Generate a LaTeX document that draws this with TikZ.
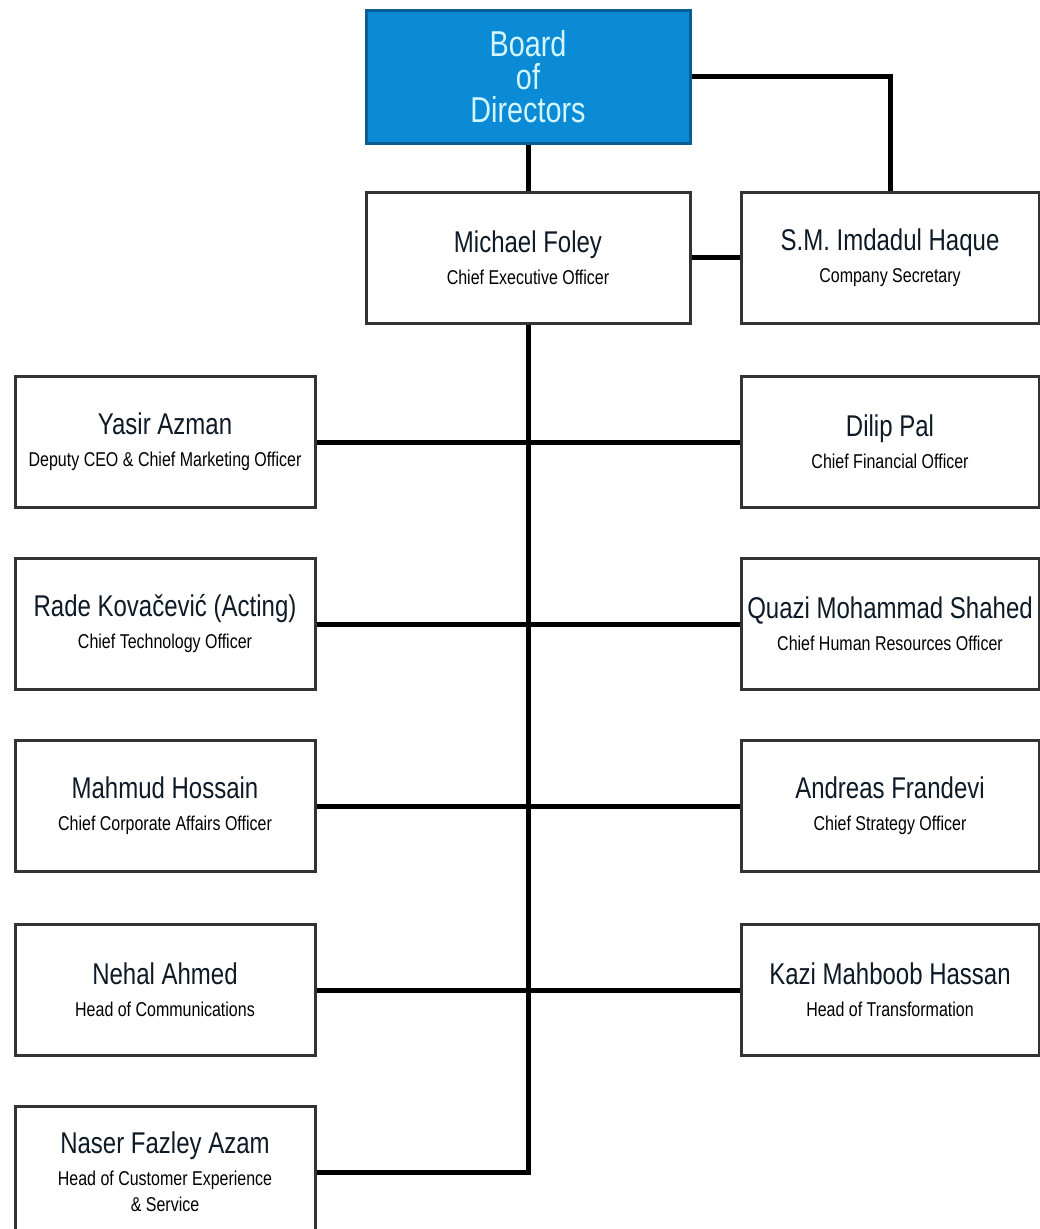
\documentclass[tikz,border=0pt]{standalone}
\usepackage{fontspec}
\setmainfont[FakeStretch=0.8]{Liberation Sans}
\definecolor{boardblue}{HTML}{0B8AD6}
\definecolor{boardedge}{HTML}{0A5E96}
\definecolor{boardtext}{HTML}{D2F6FF}
\definecolor{namecol}{HTML}{0E1A26}
\tikzset{
  box/.style={draw=black!80, line width=3pt, fill=white, rectangle, align=center,
    minimum height=131pt, inner sep=0pt, font=\fontsize{20}{26}\selectfont},
  smallbox/.style={box, minimum width=298pt},
  widebox/.style={box, minimum width=324pt},
  link/.style={line width=5pt, black}
}
\newcommand{\person}[2]{{\fontsize{30}{34}\selectfont\color{namecol}#1}\\[6pt]#2}
\begin{document}
\begin{tikzpicture}[x=1pt,y=-1pt]
      \useasboundingbox (0,0) rectangle (1039,1229);
      \draw
        (528,76.5) node[widebox, fill=boardblue, draw=boardedge, minimum height=133pt,
          text=boardtext, font=\fontsize{36}{33}\selectfont] (board){Board\\of\\Directors}
        (528,257.5) node[widebox] (ceo){\person{Michael Foley}{Chief Executive Officer}}
        (890,257.5) node[smallbox] (sec){\person{S.M. Imdadul Haque}{Company Secretary}}
        (165,442) node[smallbox, minimum width=300pt] (cmo){\person{Yasir Azman}{Deputy CEO \& Chief Marketing Officer}}
        (890,442) node[smallbox] (cfo){\person{Dilip Pal}{Chief Financial Officer}}
        (165,624) node[smallbox, minimum width=300pt] (cto){\person{Rade Kovačević (Acting)}{Chief Technology Officer}}
        (890,624) node[smallbox] (chro){\person{Quazi Mohammad Shahed}{Chief Human Resources Officer}}
        (165,806) node[smallbox, minimum width=300pt] (ccao){\person{Mahmud Hossain}{Chief Corporate Affairs Officer}}
        (890,806) node[smallbox] (cso){\person{Andreas Frandevi}{Chief Strategy Officer}}
        (165,990) node[smallbox, minimum width=300pt] (comm){\person{Nehal Ahmed}{Head of Communications}}
        (890,990) node[smallbox] (trans){\person{Kazi Mahboob Hassan}{Head of Transformation}}
        (165,1172) node[smallbox, minimum width=300pt] (cx){\person{Naser Fazley Azam}{Head of Customer Experience\\\& Service}};
      \coordinate (trunk) at (528,1172);
      \begin{scope}[link]
        \draw (board) to (ceo);
        \draw (board.east) -| (sec.north);
        \draw (ceo) to (sec);
        \draw (ceo.south) to (trunk) to (cx.east);
        \draw (cmo) to (cfo);
        \draw (cto) to (chro);
        \draw (ccao) to (cso);
        \draw (comm) to (trans);
      \end{scope}
    \end{tikzpicture}
\end{document}
